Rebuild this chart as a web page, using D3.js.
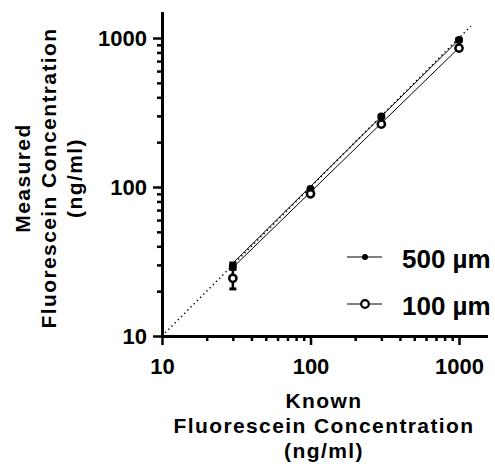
<!DOCTYPE html>
<html>
<head>
<meta charset="utf-8">
<script src="https://cdn.jsdelivr.net/npm/d3@7"></script>
<style>
  body { margin: 0; background: #fff; }
  svg text { font-family: "Liberation Sans", Arial, sans-serif; font-weight: bold; fill: #000; }
</style>
</head>
<body>
<script>
// known concentration (ng/ml)
var known = [30, 100, 300, 1000];
// measured values, 500 um channel (filled) and 100 um channel (open)
var measured500 = [29.5, 97, 297, 970];
var err500 = [1.4, 2, 5, 18];
var measured100 = [24.4, 90, 264, 855];
var err100 = [3.7, 2, 5, 15];
// fit lines, [x, y] end points
var fit500 = [[30, 30.8], [1000, 975]];
var fit100 = [[30, 28.8], [1000, 860]];
var identityLine = [10, 1200];
var majorTicks = [10, 100, 1000];
var minorTicks = [20, 30, 40, 50, 60, 70, 80, 90, 200, 300, 400, 500, 600, 700, 800, 900];
var seriesNames = ['500 \u00b5m', '100 \u00b5m'];
var xTitle = ['Known', 'Fluorescein Concentration', '(ng/ml)'];
var yTitle = ['Measured', 'Fluorescein Concentration', '(ng/ml)'];

var width = 495;
var height = 464;

var svg = d3.select('body').append('svg')
  .attr('width', width)
  .attr('height', height);

var x = d3.scaleLog().domain([10, 1550]).range([162, 162 + 148.5 * Math.log10(155)]);
var y = d3.scaleLog().domain([10, 1500]).range([336, 336 - 149 * Math.log10(150)]);

var drawAxes = function() {
  var fmt = d3.format('d');

  var xMinor = svg.append('g').attr('transform', 'translate(0,336)')
    .call(d3.axisBottom(x).tickValues(minorTicks).tickSize(5).tickSizeOuter(0).tickFormat(''));
  var xMajor = svg.append('g').attr('transform', 'translate(0,336)')
    .call(d3.axisBottom(x).tickValues(majorTicks).tickSize(9).tickSizeOuter(0).tickPadding(13).tickFormat(fmt));

  var yMinor = svg.append('g').attr('transform', 'translate(162,0)')
    .call(d3.axisLeft(y).tickValues(minorTicks).tickSize(5).tickSizeOuter(0).tickFormat(''));
  var yMajor = svg.append('g').attr('transform', 'translate(162,0)')
    .call(d3.axisLeft(y).tickValues(majorTicks).tickSize(9).tickSizeOuter(0).tickPadding(6).tickFormat(fmt));

  [xMinor, xMajor, yMinor, yMajor].forEach(function(g) {
    g.select('.domain').attr('stroke', '#000').attr('stroke-width', 3);
    g.selectAll('.tick line').attr('stroke', '#000').attr('stroke-width', 2.5);
    g.selectAll('.tick text').attr('font-size', 22).attr('font-family', null);
  });
};

var drawTitles = function() {
  svg.append('g').selectAll('text')
    .data(xTitle)
    .enter().append('text')
    .attr('x', 324)
    .attr('y', function(d, i) { return 408 + i * 25; })
    .attr('text-anchor', 'middle')
    .attr('font-size', 21)
    .style('letter-spacing', '1.4px')
    .text(function(d) { return d; });

  var yt = svg.append('g').attr('transform', 'translate(0,178) rotate(-90)');
  yt.selectAll('text')
    .data(yTitle)
    .enter().append('text')
    .attr('x', 0)
    .attr('y', function(d, i) { return 30 + i * 26; })
    .attr('text-anchor', 'middle')
    .attr('font-size', 21)
    .style('letter-spacing', '1.4px')
    .text(function(d) { return d; });
};

var drawData = function() {
  var line = d3.line()
    .x(function(d) { return x(d[0]); })
    .y(function(d) { return y(d[1]); });

  svg.append('path')
    .datum(identityLine.map(function(v) { return [v, v]; }))
    .attr('d', line)
    .attr('fill', 'none')
    .attr('stroke', '#000')
    .attr('stroke-width', 1.5)
    .attr('stroke-dasharray', '1.3,3.2');

  [fit500, fit100].forEach(function(f) {
    svg.append('path')
      .datum(f)
      .attr('d', line)
      .attr('fill', 'none')
      .attr('stroke', '#000')
      .attr('stroke-width', 1);
  });

  var drawErrors = function(vals, errs) {
    var g = svg.append('g');
    known.forEach(function(k, i) {
      var cx = x(k);
      var lo = y(vals[i] - errs[i]);
      var hi = y(vals[i] + errs[i]);
      g.append('line').attr('x1', cx).attr('x2', cx).attr('y1', lo).attr('y2', hi)
        .attr('stroke', '#000').attr('stroke-width', 2.5);
      [lo, hi].forEach(function(yy) {
        g.append('line').attr('x1', cx - 3.5).attr('x2', cx + 3.5).attr('y1', yy).attr('y2', yy)
          .attr('stroke', '#000').attr('stroke-width', 3);
      });
    });
  };
  drawErrors(measured500, err500);
  drawErrors(measured100, err100);

  svg.append('g').selectAll('circle')
    .data(measured500)
    .enter().append('circle')
    .attr('cx', function(d, i) { return x(known[i]); })
    .attr('cy', function(d) { return y(d); })
    .attr('r', 4)
    .attr('fill', '#000');

  svg.append('g').selectAll('circle')
    .data(measured100)
    .enter().append('circle')
    .attr('cx', function(d, i) { return x(known[i]); })
    .attr('cy', function(d) { return y(d); })
    .attr('r', 3.6)
    .attr('fill', '#fff')
    .attr('stroke', '#000')
    .attr('stroke-width', 2.5);
};

var drawLegend = function() {
  var rows = svg.append('g').selectAll('g')
    .data(seriesNames)
    .enter().append('g')
    .attr('transform', function(d, i) { return 'translate(0,' + (257 + i * 47) + ')'; });

  rows.append('line')
    .attr('x1', 347).attr('x2', 382)
    .attr('y1', 0).attr('y2', 0)
    .attr('stroke', '#000').attr('stroke-width', 1);

  rows.append('circle')
    .attr('cx', 365).attr('cy', 0)
    .attr('r', function(d, i) { return i === 0 ? 3 : 3.8; })
    .attr('fill', function(d, i) { return i === 0 ? '#000' : '#fff'; })
    .attr('stroke', '#000')
    .attr('stroke-width', function(d, i) { return i === 0 ? 0 : 2.2; });

  rows.append('text')
    .attr('x', 402)
    .attr('y', 11)
    .attr('font-size', 26)
    .text(function(d) { return d; });
};

drawAxes();
drawData();
drawLegend();
drawTitles();
</script>
</body>
</html>
